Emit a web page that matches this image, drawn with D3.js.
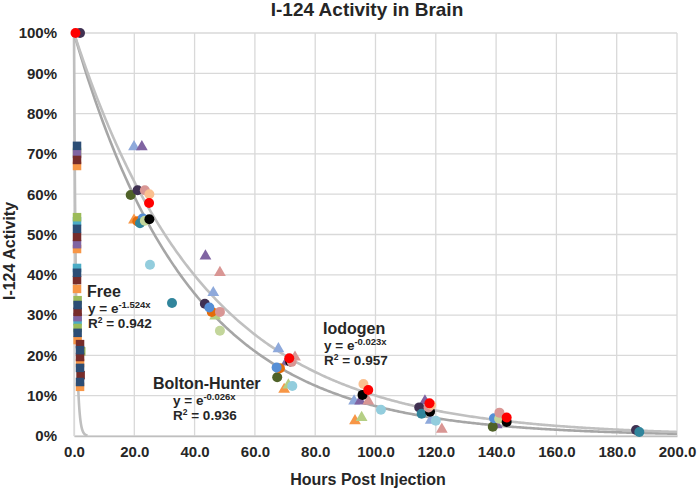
<!DOCTYPE html>
<html>
<head>
<meta charset="utf-8">
<script src="https://cdn.jsdelivr.net/npm/d3@7"></script>
<style>
  html, body { margin: 0; padding: 0; background: #fff; }
  svg { display: block; font-family: "Liberation Sans", Arial, sans-serif; }
</style>
</head>
<body>
<div id="chart"></div>
<script>
// ---------- data (hours post injection, % activity) ----------
const xTicks = [0, 20, 40, 60, 80, 100, 120, 140, 160, 180, 200];
const yTicks = [0, 10, 20, 30, 40, 50, 60, 70, 80, 90, 100];

// Free I-124 (square markers)
const freeDarkBlue = [[1.0, 72], [1.0, 51.4], [1.0, 40.5], [1.2, 32.5], [1.2, 25.6], [2.0, 21.3], [2.0, 16.9], [2.0, 13.4]];
const freePurple   = [[1.0, 70], [1.0, 47.6], [1.2, 29.5]];
const freeDarkRed  = [[1.0, 68.5], [1.0, 49.4], [1.0, 38.7], [1.2, 30.8], [2.0, 22.8], [2.0, 19.6], [2.2, 15.1]];
const freeOrange   = [[1.0, 67], [1.0, 46.4], [1.0, 36.5], [1.2, 23.8], [2.0, 18.1], [2.0, 12.2]];
const freeGreen    = [[1.0, 70.5], [1.0, 54.3], [1.2, 33.7], [1.2, 26.8], [2.4, 21.0]];
const freeAqua     = [[1.0, 53.3], [1.0, 41.7], [1.2, 28.5]];

// triangle markers
const triPurple   = [[22.5, 72], [43.6, 44.9], [70.5, 18.6], [94.9, 8.9], [116.4, 8.9], [140.2, 3.0]];
const triLavender = [[19.9, 72], [46.2, 35.8], [67.8, 21.9], [92.9, 8.9], [118.3, 4.1]];
const triRose     = [[48.4, 40.8], [73.3, 19.8], [97.6, 8.9], [122.0, 1.9]];
const triOrange   = [[19.9, 53.8], [69.7, 11.8], [93.2, 4.0]];
const triGreen    = [[46.8, 30.0], [71.1, 12.9], [95.4, 4.8]];

// circle markers
const cirDarkGreen  = [[18.8, 59.8], [67.4, 14.6], [138.9, 2.3]];
const cirDarkPurple = [[2.0, 100], [21.1, 61], [43.4, 32.8], [114.5, 7.1], [186.4, 1.5]];
const cirDarkOrange = [[21.0, 53.3], [45.7, 30.8], [68.3, 16.8]];
const cirBlue       = [[22.8, 54], [44.9, 31.9], [67.2, 17.0], [139.3, 4.4]];
const cirDarkTeal   = [[21.9, 52.8], [32.5, 33.0], [115.3, 5.5], [187.5, 1.0]];
const cirLightGreen = [[23.5, 53.4], [48.4, 26.1], [141.0, 4.3]];
const cirLightBlue  = [[25.2, 42.5], [72.4, 12.4], [101.8, 6.5], [120.0, 3.8]];
const cirBlack      = [[25.0, 53.8], [71.7, 18.5], [95.7, 10.2], [118.1, 6.0], [143.5, 3.5]];
const cirRose       = [[23.5, 61], [48.4, 30.8], [72.2, 18.4], [117.6, 7.1], [141.1, 5.8]];
const cirPeach      = [[25.0, 60], [96.0, 12.9], [118.5, 7.7]];
const cirRed        = [[0.5, 100], [24.9, 57.8], [71.4, 19.3], [97.6, 11.4], [117.9, 8.1], [143.5, 4.6]];

// exponential fits y = e^(k x)
const fitNames = ["Free", "Bolton-Hunter", "Iodogen"];
const fitK = [-1.524, -0.026, -0.023];
const fitR2 = ["0.942", "0.936", "0.957"];
const fitMaxX = [4.5, 200, 200];

// ---------- chart ----------
const W = 697, H = 491;
const svg = d3.select("#chart").append("svg").attr("width", W).attr("height", H);

const x = d3.scaleLinear().domain([0, 200]).range([74, 677]);
const y = d3.scaleLinear().domain([0, 100]).range([436, 33]);

const textCol = "#262626";

// gridlines
svg.append("g").selectAll("line").data(yTicks).join("line")
  .attr("x1", x(0)).attr("x2", x(200))
  .attr("y1", d => y(d)).attr("y2", d => y(d))
  .attr("stroke", "#d9d9d9").attr("stroke-width", 1.3);
svg.append("g").selectAll("line").data(xTicks).join("line")
  .attr("x1", d => x(d)).attr("x2", d => x(d))
  .attr("y1", y(0)).attr("y2", y(100))
  .attr("stroke", "#d9d9d9").attr("stroke-width", 1.3);

// axes
const xAxis = d3.axisBottom(x).tickValues(xTicks).tickFormat(d3.format(".1f")).tickSize(0).tickPadding(10);
const gx = svg.append("g").attr("transform", `translate(0,${y(0)})`).call(xAxis);
gx.select(".domain").attr("stroke", "#bfbfbf").attr("stroke-width", 1.5);
gx.selectAll("text").attr("font-size", 15).attr("font-weight", "bold").attr("fill", textCol)
  .attr("font-family", "Liberation Sans, Arial, sans-serif");

const yAxis = d3.axisLeft(y).tickValues(yTicks).tickFormat(d => d + "%").tickSize(0).tickPadding(17);
const gy = svg.append("g").attr("transform", `translate(${x(0)},0)`).call(yAxis);
gy.select(".domain").attr("stroke", "#d9d9d9").attr("stroke-width", 1.3);
gy.selectAll("text").attr("font-size", 15).attr("font-weight", "bold").attr("fill", textCol)
  .attr("font-family", "Liberation Sans, Arial, sans-serif");

// fit curves
const fitColors = ["#bfbfbf", "#a6a6a6", "#c0c0c0"];
const line = d3.line().x(d => x(d[0])).y(d => y(d[1]));
fitK.forEach((k, i) => {
  const n = 400;
  const pts = d3.range(n + 1).map(j => {
    const t = fitMaxX[i] * j / n;
    return [t, 100 * Math.exp(k * t)];
  });
  svg.append("path").attr("d", line(pts)).attr("fill", "none")
    .attr("stroke", fitColors[i]).attr("stroke-width", 2.6);
});

// markers
const squareSeries = [
  [freeOrange, "#f79646"], [freeAqua, "#4bacc6"], [freeGreen, "#9bbb59"],
  [freePurple, "#8064a2"], [freeDarkRed, "#772c2a"], [freeDarkBlue, "#2c4d75"]
];
const sq = 8.5;
squareSeries.forEach(([data, col]) => {
  svg.append("g").selectAll("rect").data(data).join("rect")
    .attr("x", d => x(d[0]) - sq / 2).attr("y", d => y(d[1]) - sq / 2)
    .attr("width", sq).attr("height", sq).attr("fill", col);
});

const triSym = d3.symbol().type(d3.symbolTriangle).size(60);
const triSeries = [
  [triLavender, "#8ea9db"], [triPurple, "#8064a2"], [triRose, "#d99694"],
  [triOrange, "#f79646"], [triGreen, "#b5cf85"]
];
triSeries.forEach(([data, col]) => {
  svg.append("g").selectAll("path").data(data).join("path")
    .attr("d", triSym)
    .attr("transform", d => `translate(${x(d[0])},${y(d[1]) + 1})`)
    .attr("fill", col);
});

const circleSeries = [
  [cirDarkGreen, "#4f6228"], [cirDarkPurple, "#403152"], [cirDarkOrange, "#e46c0a"],
  [cirBlue, "#558ed5"], [cirDarkTeal, "#31859c"], [cirLightGreen, "#c3d69b"],
  [cirLightBlue, "#93cddd"], [cirBlack, "#000000"], [cirRose, "#d99694"],
  [cirPeach, "#fac090"], [cirRed, "#ff0000"]
];
circleSeries.forEach(([data, col]) => {
  svg.append("g").selectAll("circle").data(data).join("circle")
    .attr("cx", d => x(d[0])).attr("cy", d => y(d[1])).attr("r", 5)
    .attr("fill", col);
});

// fit labels
const labelPos = [[87, 297], [153, 389], [323, 334]];
const eqOffset = [1, 20, 1];
fitNames.forEach((name, i) => {
  const [lx, ly] = labelPos[i];
  const ox = eqOffset[i];
  const g = svg.append("g").attr("fill", textCol).attr("font-weight", "bold");
  g.append("text").attr("x", lx).attr("y", ly).attr("font-size", 16).text(name);
  const eq = g.append("text").attr("x", lx + ox).attr("y", ly + 16).attr("font-size", 13.5);
  eq.append("tspan").text("y = e");
  eq.append("tspan").attr("font-size", 9.5).attr("dy", -5).text(fitK[i] + "x");
  const r = g.append("text").attr("x", lx + ox).attr("y", ly + 31).attr("font-size", 13.5);
  r.append("tspan").text("R");
  r.append("tspan").attr("font-size", 8.5).attr("dy", -5).text("2");
  r.append("tspan").attr("dy", 5).text(" = " + fitR2[i]);
});

// titles
svg.append("text").attr("x", 367).attr("y", 16).attr("text-anchor", "middle")
  .attr("font-size", 19).attr("font-weight", "bold").attr("fill", textCol)
  .text("I-124 Activity in Brain");
svg.append("text").attr("x", 368).attr("y", 485).attr("text-anchor", "middle")
  .attr("font-size", 16).attr("font-weight", "bold").attr("fill", textCol)
  .text("Hours Post Injection");
svg.append("text").attr("transform", "translate(15,251) rotate(-90)").attr("text-anchor", "middle")
  .attr("font-size", 16).attr("font-weight", "bold").attr("fill", textCol)
  .text("I-124 Activity");
</script>
</body>
</html>
